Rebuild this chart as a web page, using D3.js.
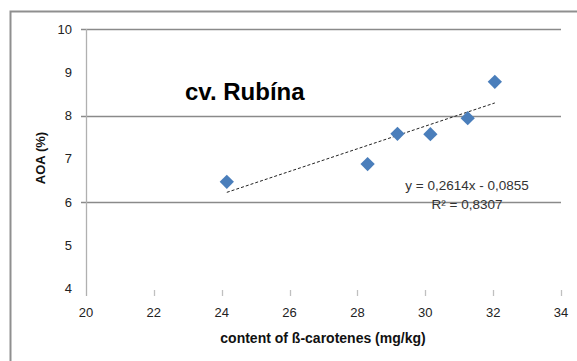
<!DOCTYPE html>
<html><head><meta charset="utf-8">
<script src="https://cdn.jsdelivr.net/npm/d3@7"></script>
<style>body{margin:0;background:#fff}svg{display:block}text{font-family:"Liberation Sans",Arial,sans-serif}</style>
</head><body>
<script>
const xValues = [24.15, 28.3, 29.18, 30.15, 31.25, 32.05];
const yValues = [6.47, 6.88, 7.58, 7.57, 7.94, 8.78];
const xTicks = [20, 22, 24, 26, 28, 30, 32, 34];
const yTicks = [4, 5, 6, 7, 8, 9, 10];
const gridTicks = [6, 8, 10];
const slope = 0.2614, intercept = -0.0855;
const titleText = "cv. Rubína";
const xLabel = "content of ß-carotenes (mg/kg)";
const yLabel = "AOA (%)";
const eqText = "y = 0,2614x - 0,0855";
const r2Text = "R² = 0,8307";

const W = 577, H = 361;
const svg = d3.select("body").append("svg").attr("width", W).attr("height", H);

// frame
svg.append("path").attr("d", `M10.5,${H} V11.5 H${W}`).attr("fill","none")
  .attr("stroke","#8f8f8f").attr("stroke-width",2);

const x = d3.scaleLinear().domain([20, 34]).range([86, 561]);
const y = d3.scaleLinear().domain([4, 10]).range([288.8, 29]);

// gridlines
svg.append("g").selectAll("line").data(gridTicks).join("line")
  .attr("x1", 81).attr("x2", x(34))
  .attr("y1", d => Math.round(y(d)) + 0.5).attr("y2", d => Math.round(y(d)) + 0.5)
  .attr("stroke", "#8a8a8a").attr("stroke-width", 1.3);

// y axis line
svg.append("line").attr("x1", 86.5).attr("x2", 86.5).attr("y1", y(10)).attr("y2", 296)
  .attr("stroke", "#b0b0b0").attr("stroke-width", 1.3);

// x tick marks
svg.append("g").selectAll("line").data(xTicks.slice(1)).join("line")
  .attr("x1", d => Math.round(x(d)) + 0.5).attr("x2", d => Math.round(x(d)) + 0.5)
  .attr("y1", 290).attr("y2", 296).attr("stroke", "#c0c0c0").attr("stroke-width", 1.3);

// y tick labels
svg.append("g").selectAll("text").data(yTicks).join("text")
  .attr("x", 72).attr("y", d => y(d) + 4.5).attr("text-anchor", "end")
  .attr("font-size", 13).attr("fill", "#222").text(d => d);

// x tick labels
svg.append("g").selectAll("text").data(xTicks).join("text")
  .attr("x", d => x(d)).attr("y", 317).attr("text-anchor", "middle")
  .attr("font-size", 13).attr("fill", "#222").text(d => d);

// trendline
const x0 = d3.min(xValues), x1 = d3.max(xValues);
svg.append("line")
  .attr("x1", x(x0)).attr("y1", y(slope * x0 + intercept))
  .attr("x2", x(x1)).attr("y2", y(slope * x1 + intercept))
  .attr("stroke", "#222").attr("stroke-width", 1).attr("stroke-dasharray", "3,2");

// points
const sym = d3.symbol().type(d3.symbolDiamond2).size(130);
svg.append("g").selectAll("path").data(xValues.map((v, i) => [v, yValues[i]])).join("path")
  .attr("d", sym).attr("transform", d => `translate(${x(d[0])},${y(d[1])})`)
  .attr("fill", "#4a7ebb");

// title
svg.append("text").attr("x", 185).attr("y", 100).attr("font-size", 24)
  .attr("font-weight", "bold").attr("fill", "#000").text(titleText);

// equation
svg.append("text").attr("x", 467).attr("y", 190).attr("text-anchor", "middle")
  .attr("font-size", 13.5).attr("fill", "#333").text(eqText);
svg.append("text").attr("x", 467).attr("y", 209).attr("text-anchor", "middle")
  .attr("font-size", 13.5).attr("fill", "#333").text(r2Text);

// axis labels
svg.append("text").attr("x", 323).attr("y", 343).attr("text-anchor", "middle")
  .attr("font-size", 14).attr("font-weight", "bold").attr("fill", "#111").text(xLabel);
svg.append("text").attr("transform", "translate(45,158) rotate(-90)").attr("text-anchor", "middle")
  .attr("font-size", 13).attr("font-weight", "bold").attr("fill", "#111").text(yLabel);
</script>
</body></html>
